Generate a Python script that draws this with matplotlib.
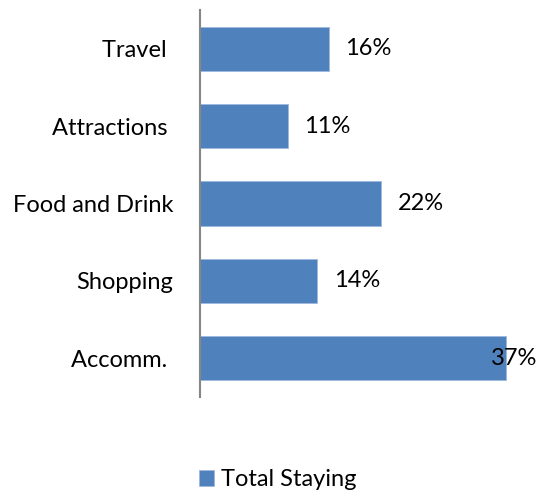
import numpy as np
from matplotlib import pyplot as plt

# categories listed bottom to top, as drawn
categories = ['Accomm. ', 'Shopping', 'Food and Drink', 'Attractions ', 'Travel ']
shares = [0.372, 0.143, 0.221, 0.107, 0.157]
labels = ['37%', '14%', '22%', '11%', '16%']
series_name = 'Total Staying'

plt.rcParams['font.family'] = ['Lato', 'DejaVu Sans']

fig = plt.figure(figsize=(5.4, 4.93), dpi=100)
ax = fig.add_axes([199.5/540, (493-397)/493, (537-199.5)/540, 387/493])

y = np.arange(len(categories))
ax.barh(y, shares, height=0.57, color='#4F81BD', edgecolor='#9DB9DE',
        linewidth=0.6, label=series_name)

xmax = 0.41
ax.set_xlim(0, xmax)
ax.set_ylim(-0.5, len(categories) - 0.5)

for yi, v, txt in zip(y, shares, labels):
    if v + 0.075 > xmax:
        ax.text(xmax, yi, txt, ha='right', va='center', fontsize=17)
    else:
        ax.text(v + 0.02, yi, txt, ha='left', va='center', fontsize=17)

ax.set_yticks(y)
ax.set_yticklabels(categories, fontsize=17)
ax.tick_params(axis='y', length=0, pad=19)
ax.set_xticks([])
for s in ['top', 'right', 'bottom']:
    ax.spines[s].set_visible(False)
ax.spines['left'].set_color('#868686')
ax.spines['left'].set_linewidth(1.5)

fig.legend(loc='center', bbox_to_anchor=(278/540, 1 - 480/493), frameon=False,
           fontsize=17, handlelength=0.65, handleheight=0.65, handletextpad=0.3)

fig.savefig('out.png', dpi=100)
